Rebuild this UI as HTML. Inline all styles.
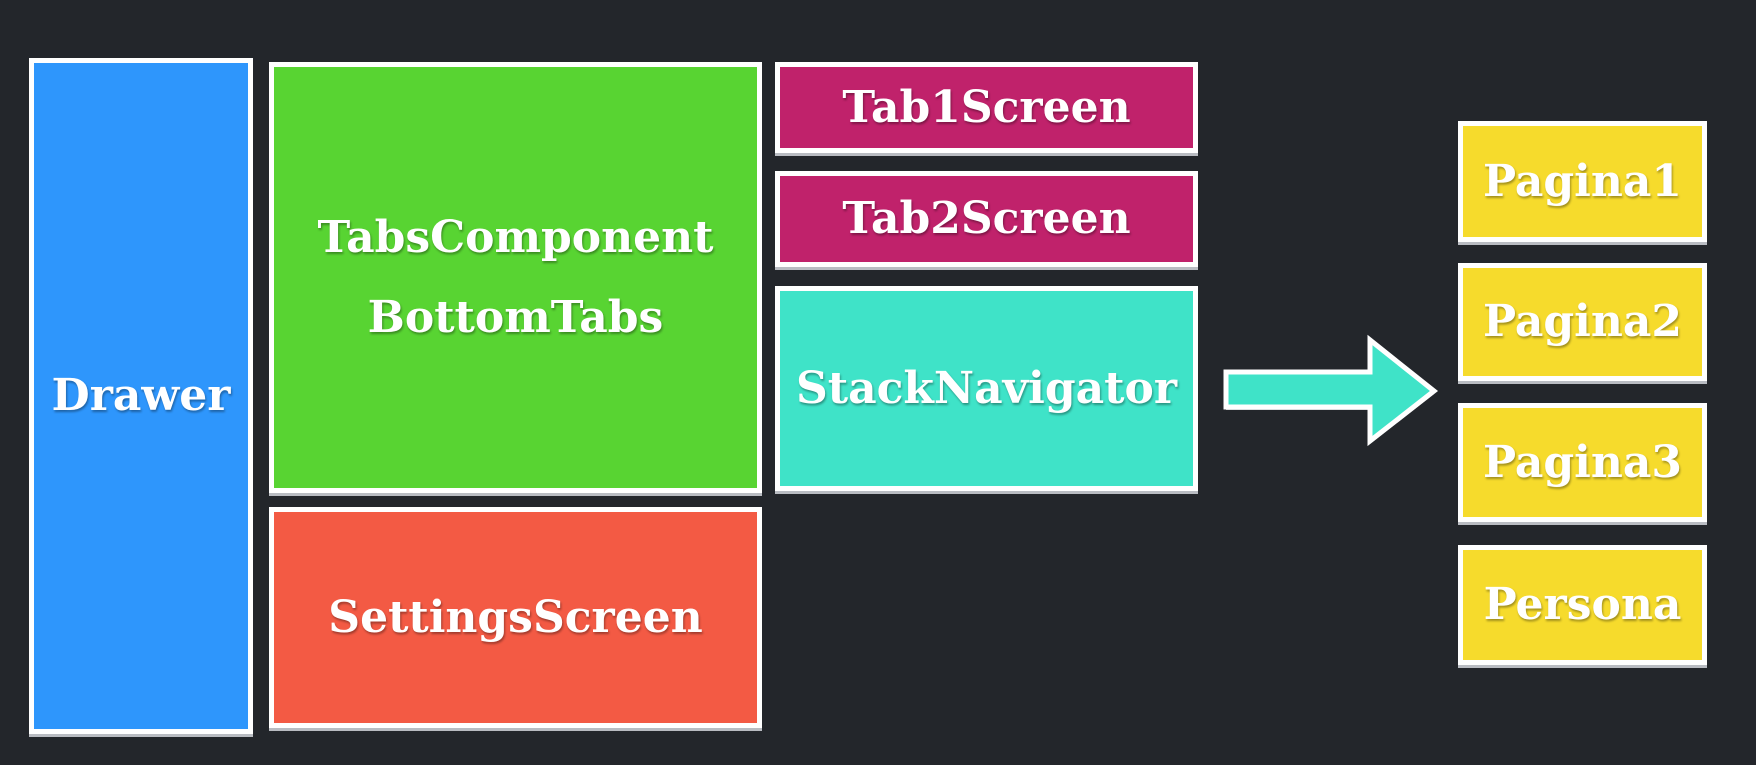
<!DOCTYPE html>
<html><head><meta charset="utf-8"><style>
html,body{margin:0;padding:0}
body{width:1756px;height:765px;background:#23262b;position:relative;overflow:hidden;font-family:"DejaVu Serif","Liberation Serif",serif;}
.b{position:absolute;box-sizing:border-box;border:5px solid #fff;box-shadow:0 3px 0 #b9bcc2;display:flex;align-items:center;justify-content:center;text-align:center;color:#fff;font-size:44px;font-weight:bold;line-height:58px;text-shadow:1px 2px 2px rgba(0,0,0,.35);}
</style></head><body>
<div class="b" style="left:29px;top:58px;width:224px;height:676px;background:#2e96fc">Drawer</div>
<div class="b" style="left:269px;top:62px;width:493px;height:431px;background:#58d432;line-height:80px">TabsComponent<br>BottomTabs</div>
<div class="b" style="left:269px;top:507px;width:493px;height:221px;background:#f35a44">SettingsScreen</div>
<div class="b" style="left:775px;top:62px;width:423px;height:91px;background:#c0226b">Tab1Screen</div>
<div class="b" style="left:775px;top:171px;width:423px;height:96px;background:#c0226b">Tab2Screen</div>
<div class="b" style="left:775px;top:286px;width:423px;height:205px;background:#3fe3c8">StackNavigator</div>
<svg style="position:absolute;left:0;top:0" width="1756" height="765">
<polygon points="1226,372 1370,372 1370,340 1434,391 1370,441 1370,407 1226,407" fill="#b9bcc2" transform="translate(0,3)"/>
<polygon points="1226,372 1370,372 1370,340 1434,391 1370,441 1370,407 1226,407" fill="#3fe3c8" stroke="#fff" stroke-width="5"/>
</svg>
<div class="b" style="left:1458px;top:121px;width:249px;height:121px;background:#f6db2c">Pagina1</div>
<div class="b" style="left:1458px;top:263px;width:249px;height:118px;background:#f6db2c">Pagina2</div>
<div class="b" style="left:1458px;top:403px;width:249px;height:119px;background:#f6db2c">Pagina3</div>
<div class="b" style="left:1458px;top:545px;width:249px;height:120px;background:#f6db2c">Persona</div>
</body></html>
